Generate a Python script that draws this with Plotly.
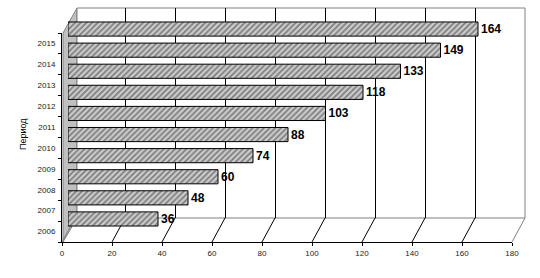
import plotly.graph_objects as go

years = ["2006", "2007", "2008", "2009", "2010", "2011", "2012", "2013", "2014", "2015"]
values = [36, 48, 60, 74, 88, 103, 118, 133, 149, 164]
x_ticks = [0, 20, 40, 60, 80, 100, 120, 140, 160, 180]
axis_title = "Период"

W, H = 540, 278
def fx(p):
    return p / W
def fy(p):
    return 1 - p / H

# geometry (pixels)
FRONT_L, FRONT_R, FRONT_B, FRONT_T = 62, 512, 242, 33
DX, DY = 13, -24
BACK_L, BACK_R, BACK_B, BACK_T = 75, 525, 218, 8
BAR_L, BAR_R = 68, 518

fig = go.Figure()

fig.add_trace(go.Scatter(x=[None], y=[None], xaxis="x", yaxis="y", showlegend=False, hoverinfo="skip"))
fig.add_trace(go.Bar(
    x=values, y=years, orientation="h", xaxis="x2", yaxis="y2",
    marker=dict(color="#c4c4c4", line=dict(color="black", width=1),
                pattern=dict(shape="/", fgcolor="#2e2e2e", bgcolor="#cccccc", size=4, solidity=0.45)),
    text=[str(v) for v in values], textposition="outside", cliponaxis=False,
    textfont=dict(family="Liberation Sans, Arial", size=12, color="black", weight="bold"),
    showlegend=False, hoverinfo="skip",
))
fig.add_trace(go.Scatter(x=[None], y=[None], xaxis="x3", yaxis="y3", showlegend=False, hoverinfo="skip"))

shapes = []
shapes.append(dict(type="path", xref="paper", yref="paper", layer="below",
    path=f"M {fx(63)},{fy(FRONT_T)} L {fx(77)},{fy(BACK_T)} L {fx(77)},{fy(BACK_B)} L {fx(63)},{fy(FRONT_B)} Z",
    fillcolor="#c0c0c0", line=dict(color="#808080", width=1)))
shapes.append(dict(type="rect", xref="paper", yref="paper", layer="below",
    x0=fx(77), x1=fx(BACK_R), y0=fy(BACK_B), y1=fy(BACK_T),
    fillcolor="white", line=dict(color="#808080", width=1)))
scale = (FRONT_R - FRONT_L) / 180.0
for t in x_ticks:
    px0 = FRONT_L + t * scale
    col = "#808080" if t in (0, 180) else "black"
    shapes.append(dict(type="line", xref="paper", yref="paper", layer="below",
        x0=fx(px0), y0=fy(FRONT_B), x1=fx(px0 + DX), y1=fy(FRONT_B + DY),
        line=dict(color=col, width=1)))

tickfont = dict(family="Liberation Sans, Arial", size=8, color="#222")
fig.update_layout(
    width=W, height=H, autosize=False,
    margin=dict(l=0, r=0, t=0, b=0, pad=0, autoexpand=False),
    paper_bgcolor="white", plot_bgcolor="rgba(0,0,0,0)",
    bargap=0.33,
    shapes=shapes,
    xaxis=dict(domain=[fx(BACK_L), fx(BACK_R)], range=[0, 180], anchor="y", automargin=False,
               tickvals=x_ticks[1:-1], showgrid=True, gridcolor="black", gridwidth=1,
               showticklabels=False, ticks="", showline=False, zeroline=False),
    yaxis=dict(domain=[fy(BACK_B), fy(BACK_T)], range=[0, 1], anchor="x", automargin=False,
               showgrid=False, showticklabels=False, showline=False, zeroline=False, ticks=""),
    xaxis2=dict(domain=[fx(BAR_L), fx(BAR_R)], range=[0, 180], anchor="y2", visible=False, automargin=False),
    yaxis2=dict(domain=[fy(229.5), fy(18.5)], type="category", categoryorder="array",
                categoryarray=years, range=[-0.5, 9.5], anchor="x2", visible=False, automargin=False),
    xaxis3=dict(domain=[fx(FRONT_L), fx(FRONT_R)], range=[0, 180], anchor="y3", automargin=False,
                tickvals=x_ticks, showgrid=False, zeroline=False,
                showline=True, linecolor="black", linewidth=1,
                ticks="outside", ticklen=3, tickcolor="black", tickfont=tickfont),
    yaxis3=dict(domain=[fy(FRONT_B), fy(FRONT_T)], type="category", categoryorder="array",
                categoryarray=years, range=[-0.5, 9.5], anchor="x3", automargin=False,
                showgrid=False, zeroline=False, showline=True, linecolor="black", linewidth=1,
                ticks="outside", ticklen=3, tickcolor="black", tickson="boundaries",
                ticklabelstandoff=4, tickfont=tickfont),
    annotations=[dict(text=axis_title, xref="paper", yref="paper", x=fx(23), y=fy(134),
                      xanchor="center", yanchor="middle",
                      showarrow=False, textangle=-90,
                      font=dict(family="Liberation Sans, Arial", size=9, color="black"))],
)

fig.write_html("out.html")
